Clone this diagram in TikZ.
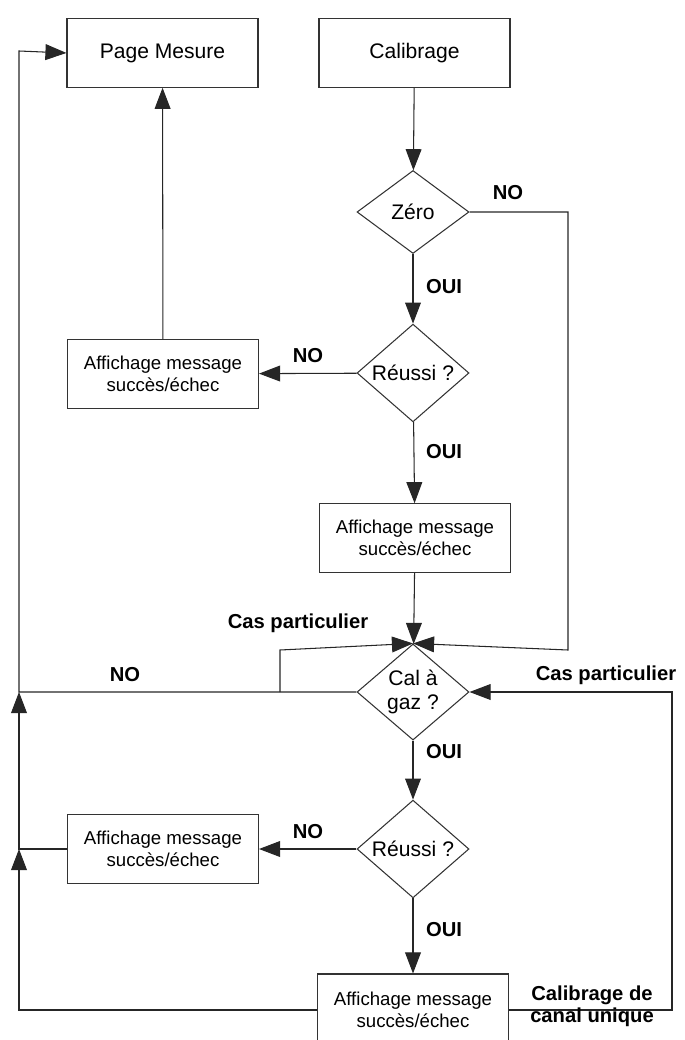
\documentclass[tikz,border=0pt]{standalone}
\usepackage{fontspec}
\setmainfont{Liberation Sans}
\usepackage{tikz}
\usetikzlibrary{arrows.meta,shapes.geometric}

\begin{document}
\begin{tikzpicture}[x=0.02cm,y=-0.02cm,
  every node/.style={font=\fontsize{12}{14}\selectfont},
  box/.style={draw=black!80,line width=0.6pt,minimum width=3.82cm,minimum height=1.37cm,inner sep=1pt,align=center},
  msg/.style={box,font=\fontsize{10.6}{12.5}\selectfont},
  test/.style={draw=black!80,line width=0.6pt,diamond,minimum width=2.24cm,minimum height=1.66cm,inner sep=0pt,align=center},
  arr/.style={-{Triangle[length=12pt,width=9pt]},line width=0.6pt,draw=black!85},
  lab/.style={font=\fontsize{11.5}{12.5}\selectfont\bfseries,align=center,inner sep=1pt}
]
  \useasboundingbox (0,0) rectangle (684,1040);

  % upper part
  \node[box] (pm) at (162.5,53) {Page Mesure};
  \node[box] (cal) at (414.5,53) {Calibrage};
  \node[test] (zero) at (413,212) {Zéro};
  \node[test] (r1) at (413,373) {Réussi ?};
  \node[msg] (aff1) at (163,374) {Affichage message\\succès/échec};
  \node[msg] (aff2) at (415,538) {Affichage message\\succès/échec};

  % lower part
  \node[test] (gaz) at (413,692) {Cal à\\gaz ?};
  \node[test] (r2) at (413,849) {Réussi ?};
  \node[msg] (aff3) at (163,849) {Affichage message\\succès/échec};
  \node[msg,minimum height=1.44cm] (aff4) at (413,1010) {Affichage message\\succès/échec};

  \coordinate (zr) at (568,212);
  \coordinate (zd) at (568,650);
  \coordinate (cl) at (280,692);
  \coordinate (cu) at (280,650);
  \coordinate (l0) at (19,51);
  \coordinate (l1) at (19,692);
  \coordinate (l2) at (19,849);
  \coordinate (l3) at (19,1010);
  \coordinate (rb) at (672,1010);
  \coordinate (rt) at (672,692);

  \draw[arr] (cal) -- (zero);
  \draw[arr] (zero) -- (r1);
  \draw[arr] (r1) -- (aff1);
  \draw[arr] (aff1) -- (pm);
  \draw[arr] (r1) -- (aff2);
  \draw[arr] (aff2) -- (gaz);
  \draw[arr] (zero.east) -- (zr) -- (zd) -- (gaz.north);
  \draw[arr] (cl) -- (cu) -- (gaz.north);
  \draw[arr] (gaz.west) -- (l1) -- (l0) -- (pm.west);
  \draw[arr] (gaz) -- (r2);
  \draw[arr] (r2) -- (aff3);
  \draw[arr] (r2) -- (aff4);
  \draw[arr] (aff3.west) -- (l2) -- (l1);
  \draw[arr] (aff4.west) -- (l3) -- (l2);
  \draw[arr] (aff4.east) -- (rb) -- (rt) -- (gaz.east);

  \node[lab] (no1) at (508,193) {NO};
  \node[lab] (oui1) at (444,287) {OUI};
  \node[lab] (no2) at (308,356) {NO};
  \node[lab] (oui2) at (444,452) {OUI};
  \node[lab] (cas1) at (298,623) {Cas particulier};
  \node[lab] (no3) at (125,675) {NO};
  \node[lab] (cas2) at (606,675) {Cas particulier};
  \node[lab] (oui3) at (444,752) {OUI};
  \node[lab] (no4) at (308,832) {NO};
  \node[lab] (oui4) at (444,930) {OUI};
  \node[lab] (canal) at (592,1006) {Calibrage de\\canal unique};
\end{tikzpicture}
\end{document}
